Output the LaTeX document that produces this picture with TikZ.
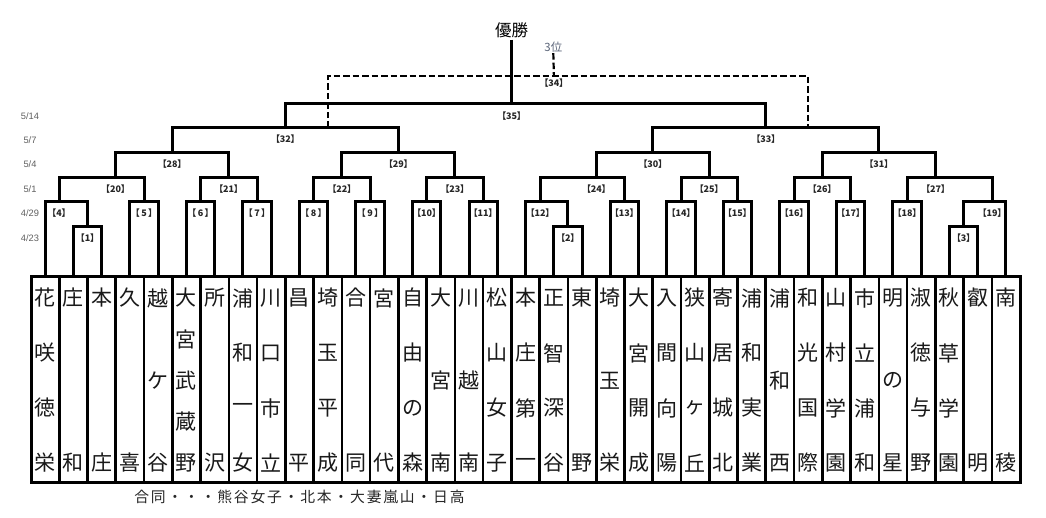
\documentclass[tikz,border=0pt]{standalone}
\usepackage{fontspec}
\setmainfont{Liberation Sans}
\newfontfamily\jp{Noto Sans CJK JP}
\newfontfamily\jpl[RawFeature=+palt]{Noto Sans CJK JP}
\makeatletter
\newcommand\spreadtxt[2]{\@tfor\sp@ch:=#2\do{\makebox[#1]{\sp@ch}}}
\makeatother
\definecolor{dategray}{RGB}{95,95,95}
\definecolor{thirdgray}{RGB}{90,100,120}
\begin{document}
\begin{tikzpicture}[x=1pt,y=-1pt,
  br/.style={line width=3pt, line join=miter},
  thirdline/.style={line width=2.2pt, dash pattern=on 6.5pt off 3pt},
  cell/.style={draw, line width=2.6pt, minimum width=28.26pt, minimum height=205.6pt, inner sep=0pt, outer sep=0pt, anchor=north},
  tchar/.style={font=\jp\fontsize{21}{21}\selectfont, inner sep=0pt, text=black!90},
  mlabel/.style={font=\jpl\bfseries\fontsize{9}{9}\selectfont, inner sep=0pt, text=black!85},
  datelbl/.style={font=\fontsize{9.3}{9.3}\selectfont, inner sep=0pt, text=dategray},
]
\useasboundingbox[fill=white] (0,0) rectangle (1046,518);

% ---------- team columns ----------
\foreach \name [count=\i from 0] in {
  {花,咲,徳,栄},{庄,和},{本,庄},{久,喜},{越,ケ,谷},{大,宮,武,蔵,野},{所,沢},
  {浦,和,一,女},{川,口,市,立},{昌,平},{埼,玉,平,成},{合,同},{宮,代},{自,由,の,森},
  {大,宮,南},{川,越,南},{松,山,女,子},{本,庄,第,一},{正,智,深,谷},{東,野},{埼,玉,栄},
  {大,宮,開,成},{入,間,向,陽},{狭,山,ヶ,丘},{寄,居,城,北},{浦,和,実,業},{浦,和,西},
  {和,光,国,際},{山,村,学,園},{市,立,浦,和},{明,の,星},{淑,徳,与,野},{秋,草,学,園},
  {叡,明},{南,稜}} {
  \pgfmathsetmacro\cx{45.13+28.26*\i}
  \node[cell] (t\i) at (\cx,277) {};
  \foreach \c [count=\n] in \name {\xdef\nch{\n}}
  \foreach \c [count=\j from 0] in \name {
    \node[tchar] (t\i c\j) at (\cx,{298+165*\j/(\nch-1)}) {\c};
  }
}
\draw[line width=3pt] (31,277) rectangle (1020.1,482.6);

% ---------- match points ----------
\coordinate (m1) at (87.5,226.7);
\coordinate (m2) at (567.9,226.7);
\coordinate (m3) at (963.6,226.7);
\coordinate (m4) at (59,201.7);
\coordinate (m5) at (144,201.7);
\coordinate (m6) at (200.5,201.7);
\coordinate (m7) at (257,201.7);
\coordinate (m8) at (313.5,201.7);
\coordinate (m9) at (370,201.7);
\coordinate (m10) at (426.6,201.7);
\coordinate (m11) at (483.1,201.7);
\coordinate (m12) at (540,201.7);
\coordinate (m13) at (624.4,201.7);
\coordinate (m14) at (681,201.7);
\coordinate (m15) at (737.4,201.7);
\coordinate (m16) at (794,201.7);
\coordinate (m17) at (850.5,201.7);
\coordinate (m18) at (907,201.7);
\coordinate (m19) at (992.2,201.7);
\coordinate (m20) at (115.5,177.3);
\coordinate (m21) at (228.7,177.3);
\coordinate (m22) at (341.8,177.3);
\coordinate (m23) at (454.9,177.3);
\coordinate (m24) at (596.3,177.3);
\coordinate (m25) at (709.2,177.3);
\coordinate (m26) at (822.2,177.3);
\coordinate (m27) at (935.5,177.3);
\coordinate (m28) at (172.1,152.3);
\coordinate (m29) at (398.4,152.3);
\coordinate (m30) at (652.8,152.3);
\coordinate (m31) at (878.9,152.3);
\coordinate (m32) at (285.3,127.7);
\coordinate (m33) at (765.8,127.7);
\coordinate (m35) at (511.5,103.3);
\coordinate (m34) at (553.9,76);
\coordinate (d34L) at (328.3,127.7);
\coordinate (d34R) at (807.8,127.7);

% ---------- third place (dashed) ----------
\node[font=\fontsize{11.4}{11.4}\selectfont\jp, text=thirdgray, inner sep=1pt] (third) at (553.3,46.7) {3位};
\draw[thirdline] (d34L) |- (m34) -| (d34R);
\draw[thirdline] (third.south) -- (m34);

% ---------- bracket ----------
\draw[br] (t1.north) |- (m1) -| (t2.north);
\draw[br] (t18.north) |- (m2) -| (t19.north);
\draw[br] (t32.north) |- (m3) -| (t33.north);
\draw[br] (t0.north) |- (m4) -| (m1);
\draw[br] (t3.north) |- (m5) -| (t4.north);
\draw[br] (t5.north) |- (m6) -| (t6.north);
\draw[br] (t7.north) |- (m7) -| (t8.north);
\draw[br] (t9.north) |- (m8) -| (t10.north);
\draw[br] (t11.north) |- (m9) -| (t12.north);
\draw[br] (t13.north) |- (m10) -| (t14.north);
\draw[br] (t15.north) |- (m11) -| (t16.north);
\draw[br] (t17.north) |- (m12) -| (m2);
\draw[br] (t20.north) |- (m13) -| (t21.north);
\draw[br] (t22.north) |- (m14) -| (t23.north);
\draw[br] (t24.north) |- (m15) -| (t25.north);
\draw[br] (t26.north) |- (m16) -| (t27.north);
\draw[br] (t28.north) |- (m17) -| (t29.north);
\draw[br] (t30.north) |- (m18) -| (t31.north);
\draw[br] (m3) |- (m19) -| (t34.north);
\draw[br] (m4) |- (m20) -| (m5);
\draw[br] (m6) |- (m21) -| (m7);
\draw[br] (m8) |- (m22) -| (m9);
\draw[br] (m10) |- (m23) -| (m11);
\draw[br] (m12) |- (m24) -| (m13);
\draw[br] (m14) |- (m25) -| (m15);
\draw[br] (m16) |- (m26) -| (m17);
\draw[br] (m18) |- (m27) -| (m19);
\draw[br] (m20) |- (m28) -| (m21);
\draw[br] (m22) |- (m29) -| (m23);
\draw[br] (m24) |- (m30) -| (m25);
\draw[br] (m26) |- (m31) -| (m27);
\draw[br] (m28) |- (m32) -| (m29);
\draw[br] (m30) |- (m33) -| (m31);
\draw[br] (m32) |- (m35) -| (m33);

\node[font=\fontsize{16.5}{16.5}\selectfont\jp, inner sep=1pt] (win) at (511.5,30.7) {優勝};
\draw[br] (win.south) -- (m35);

% ---------- match labels ----------
\foreach \k/\t in {1/【1】,2/【2】,3/【3】} {
  \node[mlabel] (l\k) at ([yshift=-11.7pt]m\k) {\t};
}
\foreach \k/\t in {4/【4】,5/【\hspace{1.5pt}5\hspace{1.5pt}】,6/【\hspace{1.5pt}6\hspace{1.5pt}】,
  7/【\hspace{1.5pt}7\hspace{1.5pt}】,8/【\hspace{1.5pt}8\hspace{1.5pt}】,9/【\hspace{1.5pt}9\hspace{1.5pt}】,
  10/【10】,11/【11】,12/【12】,13/【13】,14/【14】,15/【15】,16/【16】,17/【17】,18/【18】,19/【19】,
  20/【20】,21/【21】,22/【22】,23/【23】,24/【24】,25/【25】,26/【26】,27/【27】,
  28/【28】,29/【29】,30/【30】,31/【31】,32/【32】,33/【33】} {
  \node[mlabel] (l\k) at ([yshift=-11.8pt]m\k) {\t};
}
\node[mlabel] (l35) at ([yshift=-12.5pt]m35) {【35】};
\node[mlabel] (l34) at ([yshift=-6.8pt]m34) {【34】};

% ---------- dates ----------
\node[datelbl] (d514) at (30,115.7) {5/14};
\node[datelbl] (d57) at (30,140) {5/7};
\node[datelbl] (d54) at (30,164.3) {5/4};
\node[datelbl] (d51) at (30,189) {5/1};
\node[datelbl] (d429) at (30,213.3) {4/29};
\node[datelbl] (d423) at (30,238.3) {4/23};

% ---------- note ----------
\node[font=\jp\fontsize{14.8}{14.8}\selectfont, inner sep=0pt, text=black!85] (note) at (299.5,497)
  {\spreadtxt{16.6pt}{合同・・・熊谷女子・北本・大妻嵐山・日高}};
\end{tikzpicture}
\end{document}
